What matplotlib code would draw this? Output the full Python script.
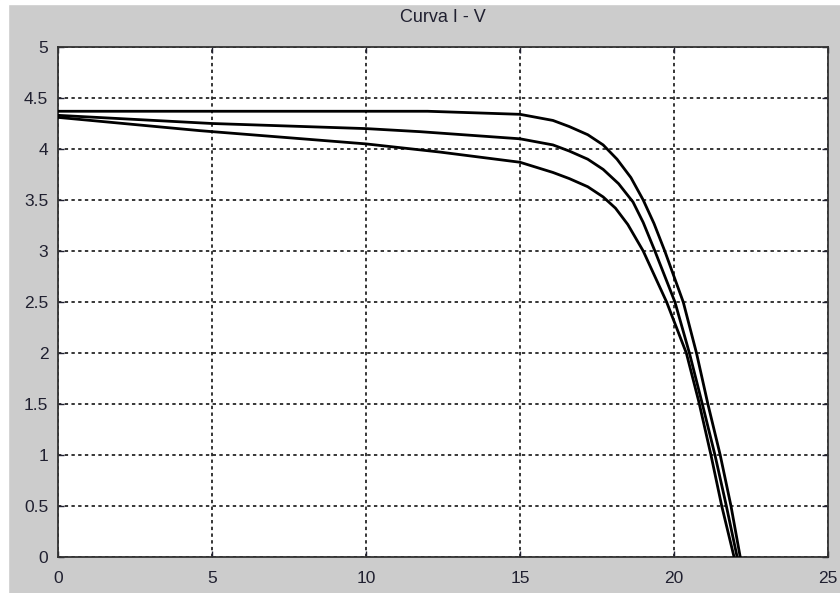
import matplotlib
matplotlib.use("Agg")
import matplotlib.pyplot as plt
from matplotlib.patches import Rectangle

title = "Curva I - V"

v_top = [0, 5, 10, 12, 15, 16.07, 16.6, 17.2, 17.7, 18.15, 18.6, 19.0, 19.35, 19.7, 20.3, 20.73, 21.1, 21.5, 21.85, 22.15]
i_top = [4.37, 4.37, 4.37, 4.37, 4.34, 4.28, 4.22, 4.14, 4.04, 3.90, 3.72, 3.50, 3.27, 3.0, 2.5, 2.0, 1.5, 1.0, 0.5, 0.0]

v_mid = [0, 5, 10, 11.75, 15, 16.07, 16.6, 17.2, 17.7, 18.2, 18.67, 19.0, 19.38, 20.03, 20.5, 20.92, 21.33, 21.7, 22.05]
i_mid = [4.33, 4.25, 4.20, 4.17, 4.10, 4.04, 3.98, 3.90, 3.80, 3.66, 3.48, 3.28, 3.0, 2.5, 2.0, 1.5, 1.0, 0.5, 0.0]

v_bot = [0, 4.6, 10, 12.4, 15, 16.07, 16.6, 17.2, 17.7, 18.1, 18.5, 19.0, 19.76, 20.4, 20.8, 21.2, 21.55, 21.95]
i_bot = [4.31, 4.18, 4.05, 3.97, 3.87, 3.77, 3.71, 3.63, 3.53, 3.42, 3.26, 3.0, 2.5, 2.0, 1.53, 1.0, 0.5, 0.0]

x_ticks = [0, 5, 10, 15, 20, 25]
y_ticks = [0, 0.5, 1, 1.5, 2, 2.5, 3, 3.5, 4, 4.5, 5]
y_labels = ["0", "0.5", "1", "1.5", "2", "2.5", "3", "3.5", "4", "4.5", "5"]

plt.rcParams['font.family'] = ['Liberation Sans', 'DejaVu Sans']

fig = plt.figure(figsize=(8.4, 5.93), dpi=100)
fig.patch.set_facecolor('#cccccc')
fig.patches.append(Rectangle((0, 0), 8/840, 1, transform=fig.transFigure, color='white', zorder=-1))
fig.patches.append(Rectangle((0, 1 - 4/593), 1, 4/593, transform=fig.transFigure, color='white', zorder=-1))

ax = fig.add_axes([58/840, 36/593, 770/840, 510/593])
ax.set_facecolor('white')

for v, i in [(v_top, i_top), (v_mid, i_mid), (v_bot, i_bot)]:
    ax.plot(v, i, color='black', lw=2.0, solid_joinstyle='round', zorder=3)

ax.set_xlim(0, 25)
ax.set_ylim(0, 5)
ax.set_xticks(x_ticks)
ax.set_yticks(y_ticks)
ax.set_yticklabels(y_labels)
ax.grid(True, color='black', linestyle=(0, (2.2, 2.2)), linewidth=1.1)
ax.tick_params(direction='in', length=4, width=1, top=True, right=True,
               labelsize=12.5, colors='#202030')
ax.tick_params(axis='x', pad=10)
ax.tick_params(axis='y', pad=7)
for s in ax.spines.values():
    s.set_linewidth(1.3)
    s.set_color('#333333')
ax.set_title(title, fontsize=13, color='#202030', pad=18)

fig.savefig("out.png", dpi=100, facecolor=fig.get_facecolor())
